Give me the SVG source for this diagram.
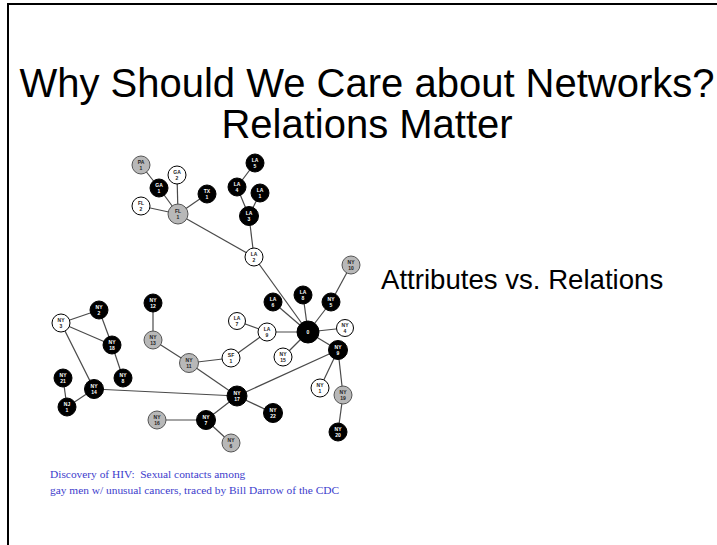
<svg xmlns="http://www.w3.org/2000/svg" width="717" height="545" viewBox="0 0 717 545">
<style>
.t{font-family:"Liberation Sans",Arial,sans-serif;fill:#000}
.cap{font-family:"Liberation Serif","Times New Roman",serif;font-size:11.4px;fill:#3c3ccc}
.e{stroke:#4a4a4a;stroke-width:1.2;fill:none}
.b{fill:#000;stroke:#000;stroke-width:1}
.w{fill:#fff;stroke:#000;stroke-width:1}
.g{fill:#b8b8b8;stroke:#555;stroke-width:1}
.lb{font-family:"Liberation Sans",Arial,sans-serif;font-size:5px;font-weight:bold;text-anchor:middle}
.lw{fill:#fff}
.lk{fill:#222}
</style>
<rect width="717" height="545" fill="#fff"/>
<path d="M717,4 H8 V545" fill="none" stroke="#000" stroke-width="2"/>
<text class="t" x="367" y="97" font-size="40" text-anchor="middle">Why Should We Care about Networks?</text>
<text class="t" x="367" y="138" font-size="40" text-anchor="middle">Relations Matter</text>
<text class="t" x="381" y="289" font-size="27.6">Attributes vs. Relations</text>
<g id="caption">
<text class="cap" x="50" y="478">Discovery of HIV:&#160; Sexual contacts among</text>
<text class="cap" x="50" y="494">gay men w/ unusual cancers, traced by Bill Darrow of the CDC</text>
</g>
<g id="connectors">
<line class="e" x1="141" y1="165" x2="159" y2="188"/>
<line class="e" x1="159" y1="188" x2="178" y2="214"/>
<line class="e" x1="177" y1="175" x2="178" y2="214"/>
<line class="e" x1="207" y1="194" x2="178" y2="214"/>
<line class="e" x1="141" y1="206" x2="178" y2="214"/>
<line class="e" x1="178" y1="214" x2="254" y2="257"/>
<line class="e" x1="255" y1="163" x2="237" y2="187"/>
<line class="e" x1="237" y1="187" x2="249" y2="216"/>
<line class="e" x1="260" y1="193" x2="249" y2="216"/>
<line class="e" x1="249" y1="216" x2="254" y2="257"/>
<line class="e" x1="254" y1="257" x2="308" y2="332"/>
<line class="e" x1="273" y1="302" x2="308" y2="332"/>
<line class="e" x1="303" y1="295" x2="308" y2="332"/>
<line class="e" x1="331" y1="302" x2="308" y2="332"/>
<line class="e" x1="331" y1="302" x2="351" y2="265"/>
<line class="e" x1="345" y1="328" x2="308" y2="332"/>
<line class="e" x1="267" y1="332" x2="308" y2="332"/>
<line class="e" x1="237" y1="321" x2="267" y2="332"/>
<line class="e" x1="231" y1="358" x2="267" y2="332"/>
<line class="e" x1="283" y1="357" x2="308" y2="332"/>
<line class="e" x1="308" y1="332" x2="338" y2="350"/>
<line class="e" x1="338" y1="350" x2="237" y2="396"/>
<line class="e" x1="338" y1="350" x2="320" y2="388"/>
<line class="e" x1="338" y1="350" x2="343" y2="395"/>
<line class="e" x1="343" y1="395" x2="338" y2="432"/>
<line class="e" x1="61" y1="323" x2="99" y2="310"/>
<line class="e" x1="61" y1="323" x2="112" y2="345"/>
<line class="e" x1="99" y1="310" x2="112" y2="345"/>
<line class="e" x1="112" y1="345" x2="123" y2="378"/>
<line class="e" x1="61" y1="323" x2="94" y2="389"/>
<line class="e" x1="63" y1="378" x2="67" y2="407"/>
<line class="e" x1="67" y1="407" x2="94" y2="389"/>
<line class="e" x1="94" y1="389" x2="237" y2="396"/>
<line class="e" x1="153" y1="303" x2="153" y2="340"/>
<line class="e" x1="153" y1="340" x2="189" y2="363"/>
<line class="e" x1="189" y1="363" x2="231" y2="358"/>
<line class="e" x1="189" y1="363" x2="237" y2="396"/>
<line class="e" x1="157" y1="420" x2="206" y2="420"/>
<line class="e" x1="206" y1="420" x2="237" y2="396"/>
<line class="e" x1="206" y1="420" x2="231" y2="443"/>
<line class="e" x1="237" y1="396" x2="273" y2="413"/>
</g>
<g id="PA1"><circle class="g" cx="141" cy="165" r="9"/><text class="lb lk" x="141" y="164">PA</text><text class="lb lk" x="141" y="170">1</text></g>
<g id="GA2"><circle class="w" cx="177" cy="175" r="9"/><text class="lb lk" x="177" y="174">GA</text><text class="lb lk" x="177" y="180">2</text></g>
<g id="GA1"><circle class="b" cx="159" cy="188" r="9"/><text class="lb lw" x="159" y="187">GA</text><text class="lb lw" x="159" y="193">1</text></g>
<g id="TX1"><circle class="b" cx="207" cy="194" r="9"/><text class="lb lw" x="207" y="193">TX</text><text class="lb lw" x="207" y="199">1</text></g>
<g id="FL2"><circle class="w" cx="141" cy="206" r="9"/><text class="lb lk" x="141" y="205">FL</text><text class="lb lk" x="141" y="211">2</text></g>
<g id="FL1"><circle class="g" cx="178" cy="214" r="10"/><text class="lb lk" x="178" y="213">FL</text><text class="lb lk" x="178" y="219">1</text></g>
<g id="LA5"><circle class="b" cx="255" cy="163" r="9"/><text class="lb lw" x="255" y="162">LA</text><text class="lb lw" x="255" y="168">5</text></g>
<g id="LA4"><circle class="b" cx="237" cy="187" r="9"/><text class="lb lw" x="237" y="186">LA</text><text class="lb lw" x="237" y="192">4</text></g>
<g id="LA1"><circle class="b" cx="260" cy="193" r="9"/><text class="lb lw" x="260" y="192">LA</text><text class="lb lw" x="260" y="198">1</text></g>
<g id="LA3"><circle class="b" cx="249" cy="216" r="9.5"/><text class="lb lw" x="249" y="215">LA</text><text class="lb lw" x="249" y="221">3</text></g>
<g id="LA2"><circle class="w" cx="254" cy="257" r="9"/><text class="lb lk" x="254" y="256">LA</text><text class="lb lk" x="254" y="262">2</text></g>
<g id="NY10"><circle class="g" cx="351" cy="265" r="9"/><text class="lb lk" x="351" y="264">NY</text><text class="lb lk" x="351" y="270">10</text></g>
<g id="LA6"><circle class="b" cx="273" cy="302" r="9"/><text class="lb lw" x="273" y="301">LA</text><text class="lb lw" x="273" y="307">6</text></g>
<g id="LA8"><circle class="b" cx="303" cy="295" r="9"/><text class="lb lw" x="303" y="294">LA</text><text class="lb lw" x="303" y="300">8</text></g>
<g id="NY5"><circle class="b" cx="331" cy="302" r="9"/><text class="lb lw" x="331" y="301">NY</text><text class="lb lw" x="331" y="307">5</text></g>
<g id="LA7"><circle class="w" cx="237" cy="321" r="8.5"/><text class="lb lk" x="237" y="320">LA</text><text class="lb lk" x="237" y="326">7</text></g>
<g id="LA9"><circle class="w" cx="267" cy="332" r="9"/><text class="lb lk" x="267" y="331">LA</text><text class="lb lk" x="267" y="337">9</text></g>
<g id="P0"><circle class="b" cx="308" cy="332" r="11"/><text class="lb lw" x="308" y="334" font-size="6">0</text></g>
<g id="NY4"><circle class="w" cx="345" cy="328" r="8.5"/><text class="lb lk" x="345" y="327">NY</text><text class="lb lk" x="345" y="333">4</text></g>
<g id="SF1"><circle class="w" cx="231" cy="358" r="9"/><text class="lb lk" x="231" y="357">SF</text><text class="lb lk" x="231" y="363">1</text></g>
<g id="NY15"><circle class="w" cx="283" cy="357" r="9"/><text class="lb lk" x="283" y="356">NY</text><text class="lb lk" x="283" y="362">15</text></g>
<g id="NY9"><circle class="b" cx="338" cy="350" r="9.5"/><text class="lb lw" x="338" y="349">NY</text><text class="lb lw" x="338" y="355">9</text></g>
<g id="NY1"><circle class="w" cx="320" cy="388" r="9"/><text class="lb lk" x="320" y="387">NY</text><text class="lb lk" x="320" y="393">1</text></g>
<g id="NY19"><circle class="g" cx="343" cy="395" r="9"/><text class="lb lk" x="343" y="394">NY</text><text class="lb lk" x="343" y="400">19</text></g>
<g id="NY20"><circle class="b" cx="338" cy="432" r="9"/><text class="lb lw" x="338" y="431">NY</text><text class="lb lw" x="338" y="437">20</text></g>
<g id="NY3"><circle class="w" cx="61" cy="323" r="9"/><text class="lb lk" x="61" y="322">NY</text><text class="lb lk" x="61" y="328">3</text></g>
<g id="NY2"><circle class="b" cx="99" cy="310" r="9"/><text class="lb lw" x="99" y="309">NY</text><text class="lb lw" x="99" y="315">2</text></g>
<g id="NY12"><circle class="b" cx="153" cy="303" r="9"/><text class="lb lw" x="153" y="302">NY</text><text class="lb lw" x="153" y="308">12</text></g>
<g id="NY13"><circle class="g" cx="153" cy="340" r="9"/><text class="lb lk" x="153" y="339">NY</text><text class="lb lk" x="153" y="345">13</text></g>
<g id="NY18"><circle class="b" cx="112" cy="345" r="9"/><text class="lb lw" x="112" y="344">NY</text><text class="lb lw" x="112" y="350">18</text></g>
<g id="NY11"><circle class="g" cx="189" cy="363" r="9.5"/><text class="lb lk" x="189" y="362">NY</text><text class="lb lk" x="189" y="368">11</text></g>
<g id="NY21"><circle class="b" cx="63" cy="378" r="9"/><text class="lb lw" x="63" y="377">NY</text><text class="lb lw" x="63" y="383">21</text></g>
<g id="NY8"><circle class="b" cx="123" cy="378" r="9"/><text class="lb lw" x="123" y="377">NY</text><text class="lb lw" x="123" y="383">8</text></g>
<g id="NY14"><circle class="b" cx="94" cy="389" r="9.5"/><text class="lb lw" x="94" y="388">NY</text><text class="lb lw" x="94" y="394">14</text></g>
<g id="NJ1"><circle class="b" cx="67" cy="407" r="9"/><text class="lb lw" x="67" y="406">NJ</text><text class="lb lw" x="67" y="412">1</text></g>
<g id="NY16"><circle class="g" cx="157" cy="420" r="9"/><text class="lb lk" x="157" y="419">NY</text><text class="lb lk" x="157" y="425">16</text></g>
<g id="NY7"><circle class="b" cx="206" cy="420" r="9.5"/><text class="lb lw" x="206" y="419">NY</text><text class="lb lw" x="206" y="425">7</text></g>
<g id="NY17"><circle class="b" cx="237" cy="396" r="10"/><text class="lb lw" x="237" y="395">NY</text><text class="lb lw" x="237" y="401">17</text></g>
<g id="NY22"><circle class="b" cx="273" cy="413" r="9.5"/><text class="lb lw" x="273" y="412">NY</text><text class="lb lw" x="273" y="418">22</text></g>
<g id="NY6"><circle class="g" cx="231" cy="443" r="9"/><text class="lb lk" x="231" y="442">NY</text><text class="lb lk" x="231" y="448">6</text></g>
</svg>
